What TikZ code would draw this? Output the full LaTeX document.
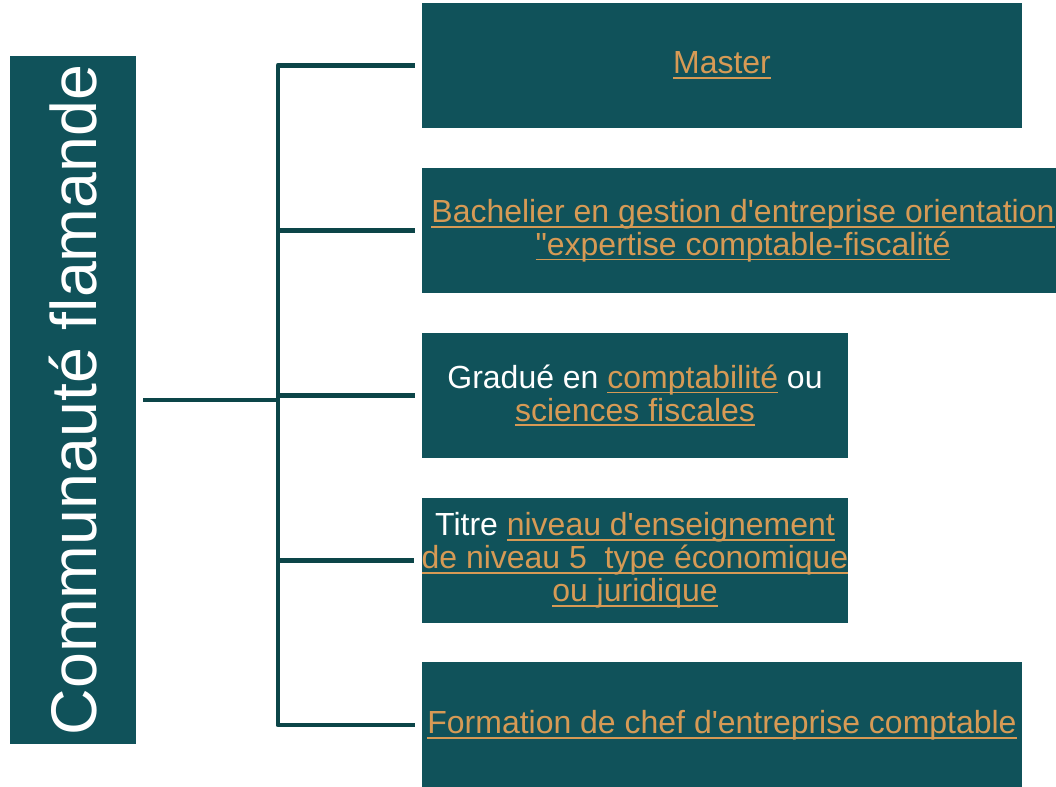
\documentclass[tikz,border=0pt]{standalone}
\usepackage{fontspec}
\setmainfont{Liberation Sans}[Ligatures=TeXOff]
\usepackage{tikz}
\usetikzlibrary{positioning}
\definecolor{teal1}{HTML}{10525A}
\definecolor{line1}{HTML}{0C4548}
\definecolor{gold1}{HTML}{D69A55}
\tikzstyle{side}=[rectangle, fill=teal1, text=white, minimum width=13.76cm, minimum height=2.52cm, inner sep=0pt, font=\fontsize{36.7}{40}\selectfont]
\tikzstyle{box}=[rectangle, fill=teal1, text=white, minimum height=2.5cm, inner sep=0pt, align=center, font=\fontsize{18.2}{18.7}\selectfont]
\tikzstyle{link}=[draw=line1, line width=2.8pt, line join=round]
\newsavebox{\lkbox}
\newcommand{\lk}[1]{\textcolor{gold1}{\sbox{\lkbox}{#1}\rlap{\rule[-3pt]{\wd\lkbox}{1.1pt}}\usebox{\lkbox}}}

\begin{document}
\begin{tikzpicture}
\useasboundingbox (0,0) rectangle (21.12,-15.74);
%Left
\node[side,rotate=90](side) at (1.46,-8.0){Communauté flamande};
%Boxes
\node[box,minimum width=12cm]   (bx1) at (14.44,-1.31){\lk{Master}};
\node[box,minimum width=12.84cm](bx2) at (14.86,-4.61){\lk{Bachelier en gestion d'entreprise orientation}\\\lk{"expertise comptable-fiscalité}};
\node[box,minimum width=8.52cm] (bx3) at (12.70,-7.91){Gradué en \lk{comptabilité} ou\\\lk{sciences fiscales}};
\node[box,minimum width=8.52cm] (bx4) at (12.70,-11.21){Titre \lk{niveau d'enseignement}\\\lk{de niveau 5~ type économique}\\\lk{ou juridique}};
\node[box,minimum width=12cm]   (bx5) at (14.44,-14.50){\lk{Formation de chef d'entreprise comptable}};
%Connectors
\coordinate (fork) at (5.56,-8.0);
\draw[link] ([xshift=0.14cm]side.south) -- (fork);
\draw[link] ([xshift=-0.14cm]bx1.west) -| (fork |- bx5.west) -- ([xshift=-0.14cm]bx5.west);
\draw[link] (fork |- bx2.west) -- ([xshift=-0.14cm]bx2.west);
\draw[link] (fork |- bx3.west) -- ([xshift=-0.14cm]bx3.west);
\draw[link] (fork |- bx4.west) -- ([xshift=-0.14cm]bx4.west);
\end{tikzpicture}
\end{document}
